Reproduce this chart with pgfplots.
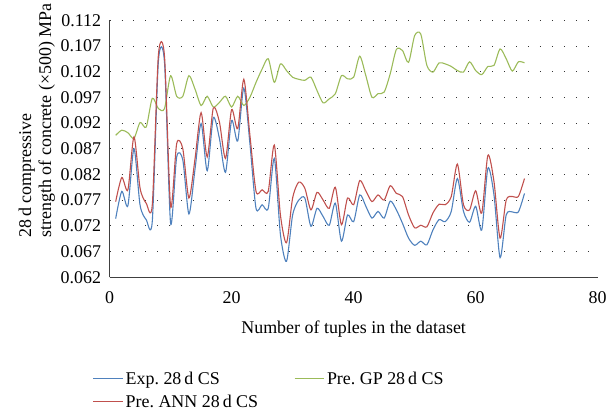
\documentclass[border=0pt]{standalone}
\usepackage{pgfplots}
\pgfplotsset{compat=1.18}
\usepackage{fontspec}
\setmainfont{Liberation Serif}

\definecolor{expblue}{HTML}{4F81BD}
\definecolor{annred}{HTML}{C0504D}
\definecolor{gpgreen}{HTML}{9BBB59}

\begin{document}
\frenchspacing
\begin{tikzpicture}[font=\fontsize{18}{20}\selectfont]
\begin{axis}[
  scale only axis,
  width=490pt, height=258pt,
  xmin=0, xmax=80, ymin=0.062, ymax=0.112,
  xtick={0,20,40,60,80},
  ytick={0.062,0.067,0.072,0.077,0.082,0.087,0.092,0.097,0.102,0.107,0.112},
  /pgf/number format/assume math mode=true,
  yticklabel style={/pgf/number format/fixed, /pgf/number format/precision=3,
    /pgf/number format/zerofill, xshift=-5pt},
  xticklabel style={yshift=-11pt},
  axis x line*=bottom, axis y line*=left,
  axis line style={draw=black!75, line width=0.8pt},
  major tick length=0pt,
  ymajorgrids,
  grid style={black!80, line width=0.7pt, dash pattern=on 0.7pt off 11.3pt},
  xlabel={Number of tuples in the dataset},
  xlabel style={yshift=-10pt},
  ylabel={28\,d compressive\\strength of concrete (×500) MPa},
  ylabel shift=-3pt,
  ylabel style={align=left, at={(ticklabel cs:0.61)}, yshift=2pt},
  legend cell align=left,
  legend style={draw=none, at={(-0.035,-0.36)}, anchor=north west,
    legend columns=2, row sep=5pt, inner sep=0pt,
    /tikz/every even column/.append style={column sep=34pt}},
  legend image code/.code={\draw[#1] (0pt,0pt) -- (30pt,0pt);},
  every axis plot/.append style={smooth, tension=0.45, line width=1.1pt, no markers},
]
\addplot[expblue] coordinates {
(1,0.0734) (2,0.0787) (3,0.0759) (4,0.0870) (5,0.0760) (6,0.0732) (7,0.0729)
(8,0.1040) (9,0.1038) (10,0.0725) (11,0.0854) (12,0.0848) (13,0.0743) (14,0.0830)
(15,0.0919) (16,0.0827) (17,0.0930) (18,0.0890) (19,0.0824) (20,0.0925) (21,0.0885)
(22,0.0988) (23,0.0880) (24,0.0754) (25,0.0761) (26,0.0754) (27,0.0851) (28,0.0703)
(29,0.0651) (30,0.0741) (31,0.0770) (32,0.0774) (33,0.0719) (34,0.0754) (35,0.0738)
(36,0.0721) (37,0.0764) (38,0.0690) (39,0.0741) (40,0.0728) (41,0.0780) (42,0.0758)
(43,0.0735) (44,0.0748) (45,0.0735) (46,0.0768) (47,0.0751) (48,0.0725) (49,0.0696)
(50,0.0682) (51,0.0690) (52,0.0683) (53,0.0712) (54,0.0732) (55,0.0728) (56,0.0748)
(57,0.0812) (58,0.0748) (59,0.0727) (60,0.0758) (61,0.0712) (62,0.0832) (63,0.0780)
(64,0.0658) (65,0.0741) (66,0.0747) (67,0.0747) (68,0.0783)
};
\addlegendentry{Exp. 28\,d CS}
\addplot[gpgreen] coordinates {
(1,0.0896) (2,0.0906) (3,0.0901) (4,0.0890) (5,0.0921) (6,0.0912) (7,0.0968)
(8,0.0948) (9,0.0948) (10,0.1012) (11,0.0972) (12,0.0972) (13,0.1012) (14,0.0986)
(15,0.0954) (16,0.0972) (17,0.0951) (18,0.0960) (19,0.0972) (20,0.0951) (21,0.0972)
(22,0.0954) (23,0.0970) (24,0.0999) (25,0.1025) (26,0.1045) (27,0.0999) (28,0.1035)
(29,0.1022) (30,0.1009) (31,0.1005) (32,0.1003) (33,0.1009) (34,0.0983) (35,0.0959)
(36,0.0967) (37,0.0977) (38,0.1012) (39,0.1006) (40,0.1009) (41,0.1050) (42,0.1012)
(43,0.0970) (44,0.0977) (45,0.0980) (46,0.1016) (47,0.1063) (48,0.1061) (49,0.1038)
(50,0.1090) (51,0.1093) (52,0.1032) (53,0.1019) (54,0.1037) (55,0.1035) (56,0.1030)
(57,0.1022) (58,0.1019) (59,0.1039) (60,0.1022) (61,0.1014) (62,0.1030) (63,0.1032)
(64,0.1064) (65,0.1045) (66,0.1021) (67,0.1039) (68,0.1037)
};
\addlegendentry{Pre. GP 28\,d CS}
\addplot[annred] coordinates {
(1,0.0767) (2,0.0814) (3,0.0790) (4,0.0893) (5,0.0793) (6,0.0764) (7,0.0761)
(8,0.1052) (9,0.1050) (10,0.0758) (11,0.0880) (12,0.0870) (13,0.0774) (14,0.0850)
(15,0.0940) (16,0.0854) (17,0.0949) (18,0.0922) (19,0.0851) (20,0.0946) (21,0.0909)
(22,0.1005) (23,0.0896) (24,0.0787) (25,0.0790) (26,0.0787) (27,0.0877) (28,0.0741)
(29,0.0687) (30,0.0774) (31,0.0805) (32,0.0793) (33,0.0751) (34,0.0785) (35,0.0770)
(36,0.0754) (37,0.0795) (38,0.0722) (39,0.0774) (40,0.0761) (41,0.0808) (42,0.0788)
(43,0.0767) (44,0.0780) (45,0.0770) (46,0.0798) (47,0.0783) (48,0.0777) (49,0.0741)
(50,0.0716) (51,0.0721) (52,0.0718) (53,0.0745) (54,0.0762) (55,0.0761) (56,0.0777)
(57,0.0840) (58,0.0761) (59,0.0751) (60,0.0788) (61,0.0745) (62,0.0857) (63,0.0806)
(64,0.0696) (65,0.0770) (66,0.0777) (67,0.0777) (68,0.0812)
};
\addlegendentry{Pre. ANN 28\,d CS}
\end{axis}
\path ([xshift=-110pt]current axis.south west);
\end{tikzpicture}
\end{document}
